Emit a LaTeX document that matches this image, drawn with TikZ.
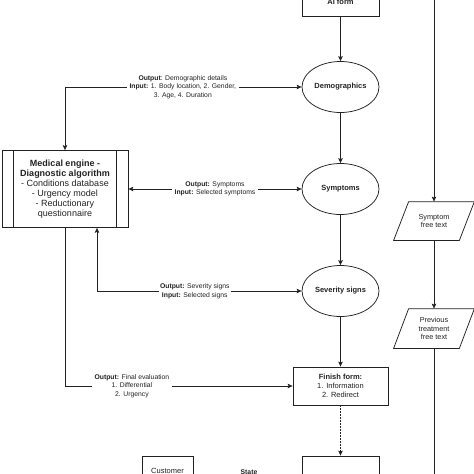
\documentclass[tikz,border=0pt]{standalone}
\usepackage{fontspec}
\setmainfont{Liberation Sans}
\usetikzlibrary{arrows.meta,shapes.geometric,calc}
\definecolor{ink}{HTML}{222222}
\begin{document}
\begin{tikzpicture}[x=1pt,y=-1pt,
  line width=0.75pt, draw=ink, text=ink,
  tip/.tip={Stealth[length=5pt,width=4.5pt,inset=1pt]},
  arr/.style={-tip},
  biarr/.style={tip-tip},
  boxnode/.style={draw, rectangle, inner sep=0pt, align=center},
  ellnode/.style={draw, ellipse, minimum width=77pt, minimum height=51pt, inner sep=0pt, align=center, font=\fontsize{7.5}{9}\selectfont\bfseries},
  lbl/.style={fill=white, inner sep=3pt, align=center, font=\fontsize{6.8}{8.5}\selectfont},
  ptext/.style={rectangle, inner sep=0pt, minimum width=65pt, minimum height=38pt, align=center, font=\fontsize{7.3}{8.8}\selectfont}
]
\useasboundingbox (0,0) rectangle (474,474);
\clip (0,0) rectangle (474,474);

% main column
\node[boxnode, minimum width=77pt, minimum height=29pt, font=\fontsize{7.5}{9}\selectfont\bfseries] (ai) at (340.5,1.5) {AI form};
\node[ellnode] (demo) at (340.5,87) {Demographics};
\node[ellnode] (symp) at (340.5,189) {Symptoms};
\node[ellnode] (sev) at (340.5,291) {Severity signs};
\node[boxnode, minimum width=95pt, minimum height=38pt, font=\fontsize{7.5}{9}\selectfont] (fin) at (340.5,386) {\textbf{Finish form:}\\1. Information\\2. Redirect};
\node[boxnode, minimum width=77pt, minimum height=40pt] (out) at (340.5,476) {};
\node[boxnode, minimum width=51pt, minimum height=30pt, font=\fontsize{7.5}{9}\selectfont] (cust) at (167.5,471) {Customer};
\node[inner sep=0pt, font=\fontsize{6.8}{8}\selectfont\bfseries] (state) at (249,472) {State};

% medical engine
\node[boxnode, minimum width=126pt, minimum height=77pt, font=\fontsize{9}{10}\selectfont] (eng) at (65,189) {\textbf{Medical engine -}\\\textbf{Diagnostic algorithm}\\- Conditions database\\- Urgency model\\- Reductionary\\questionnaire};
\draw ($(eng.north west)+(12,0)$) -- ($(eng.south west)+(12,0)$);
\draw ($(eng.north east)+(-12,0)$) -- ($(eng.south east)+(-12,0)$);

% right column
\node[ptext] (sft) at (434,221) {Symptom\\free text};
\node[ptext, minimum height=39pt] (ptf) at (434,328.5) {Previous\\treatment\\free text};
\foreach \n in {sft,ptf}
  \draw ($(\n.north west)+(7.5,0)$) -- ($(\n.north east)+(7.5,0)$) -- ($(\n.south east)+(-7.5,0)$) -- ($(\n.south west)+(-7.5,0)$) -- cycle;
\coordinate (rtop) at (434,-5);
\coordinate (rbot) at (434,480);
\draw[arr] (rtop) -- (sft.north);
\draw[arr] (sft.south) -- (ptf.north);
\draw (ptf.south) -- (rbot);

% vertical flow
\draw[arr] (ai.south) -- (demo.north);
\draw[arr] (demo.south) -- (symp.north);
\draw[arr] (symp.south) -- (sev.north);
\draw[arr] (sev.south) -- (fin.north);
\draw[arr, dash pattern=on 2pt off 1pt] (fin.south) -- (out.north);

% engine connectors
\draw[biarr] (eng.north) |- node[lbl, pos=0.749] {\textbf{Output}: Demographic details\\\textbf{Input:} 1. Body location, 2. Gender,\\3. Age, 4. Duration} (demo.west);
\draw[biarr] (eng.east) -- node[lbl] {\textbf{Output:} Symptoms\\\textbf{Input:} Selected symptoms} (symp.west);
\coordinate (engb) at ($(eng.south)+(32,0)$);
\draw[biarr] (engb) |- node[lbl, pos=0.739, inner sep=1.5pt] {\textbf{Output:} Severity signs\\\textbf{Input:} Selected signs} (sev.west);
\draw[arr] (eng.south) |- node[lbl, pos=0.647] {\textbf{Output:} Final evaluation\\1. Differential\\2. Urgency} (fin.west);
\end{tikzpicture}
\end{document}
